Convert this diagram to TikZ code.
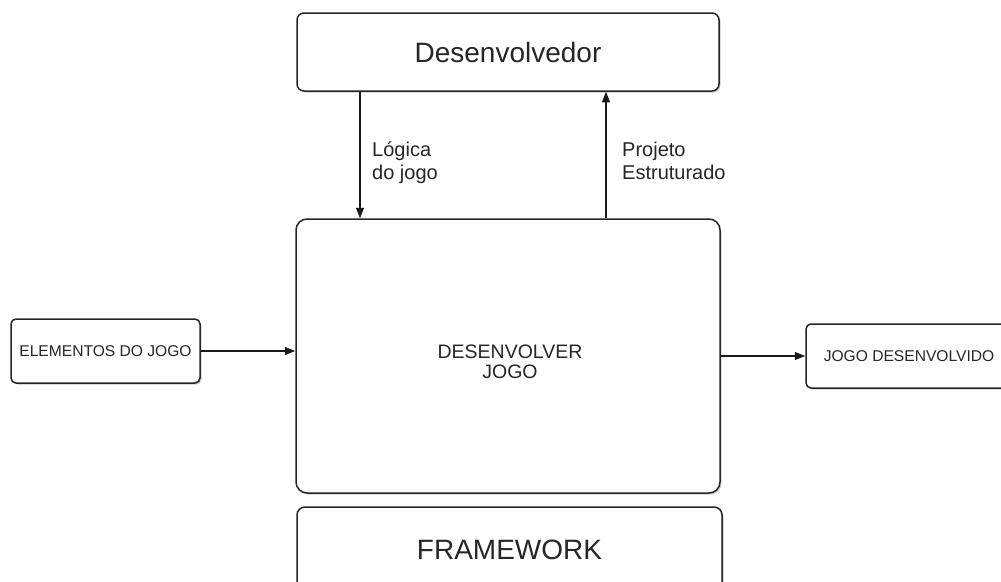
\documentclass[tikz,border=0pt]{standalone}
\usepackage{fontspec}
\setmainfont{Liberation Sans}
\usetikzlibrary{arrows.meta,shadows}
\begin{document}
\begin{tikzpicture}[x=1pt,y=-1pt,
  box/.style={draw=black!85, line width=1.5pt, fill=white, inner sep=0pt, text=black!85,
    drop shadow={shadow xshift=1.5pt, shadow yshift=-1.5pt, fill=black!20, opacity=1}},
  arr/.style={line width=1.3pt, draw=black!90, -{Triangle[length=10.5pt,width=8pt]}},
  lbl/.style={font=\fontsize{20}{23}\selectfont, align=left, text=black!85, inner sep=0pt}]
\clip (0,0) rectangle (1001,581);
\fill[white] (0,0) rectangle (1001,581);
\node[box, rounded corners=7pt, minimum width=422pt, minimum height=78pt,
  font=\fontsize{28}{32}\selectfont] (dev) at (508,52) {Desenvolvedor};
\node[box, rounded corners=11pt, minimum width=424pt, minimum height=274pt] (main) at (508,356) {};
\node[font=\fontsize{19.5}{20}\selectfont, align=center, text=black!85, inner sep=0pt]
  (maintxt) at (510,362) {DESENVOLVER\\JOGO};
\node[box, rounded corners=5pt, minimum width=189pt, minimum height=64pt,
  font=\fontsize{15.6}{18}\selectfont] (elem) at (105.5,351) {ELEMENTOS DO JOGO};
\node[box, rounded corners=5pt, minimum width=206pt, minimum height=64pt,
  font=\fontsize{15.6}{18}\selectfont] (jogo) at (909,356) {JOGO DESENVOLVIDO};
\node[box, rounded corners=8pt, minimum width=425pt, minimum height=86pt,
  font=\fontsize{28}{32}\selectfont] (fw) at (509.5,550) {FRAMEWORK};
\coordinate (lx) at (360,0);
\coordinate (rx) at (606,0);
\draw[arr] (dev.south -| lx) -- (main.north -| lx);
\draw[arr] (main.north -| rx) -- (dev.south -| rx);
\draw[arr] (elem.east) -- (elem.east -| main.west);
\draw[arr] (jogo.west -| main.east) -- (jogo.west);
\node[lbl, anchor=north west] (l1) at (372,142) {Lógica\\do jogo};
\node[lbl, anchor=north west] (l2) at (622,142) {Projeto\\Estruturado};
\end{tikzpicture}
\end{document}
